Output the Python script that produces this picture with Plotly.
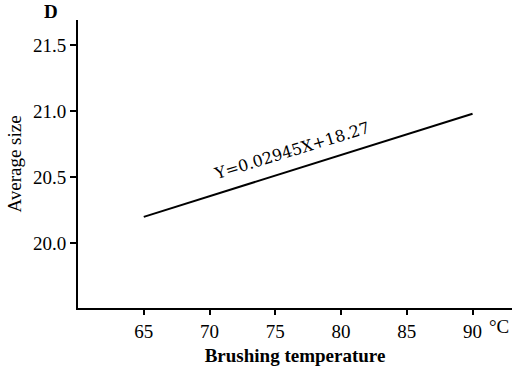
import plotly.graph_objects as go

# Data
temperature = [65, 90]
avg_size = [20.2, 20.98]
x_ticks = [65, 70, 75, 80, 85, 90]
y_ticks = [20.0, 20.5, 21.0, 21.5]
equation_label = "Y=0.02945X+18.27"

SERIF = "Liberation Serif"
WIDE = "DejaVu Serif"

fig = go.Figure()
fig.add_trace(go.Scatter(
    x=temperature, y=avg_size, mode="lines",
    line=dict(color="black", width=2), showlegend=False,
))

fig.update_layout(
    width=516, height=369,
    margin=dict(l=78, r=4, t=20, b=61),
    paper_bgcolor="white", plot_bgcolor="white",
    font=dict(family=SERIF, color="black", size=17),
    xaxis=dict(
        range=[60, 93], tickvals=x_ticks, ticktext=[str(v) for v in x_ticks],
        tickfont=dict(family=SERIF, size=19, color="black"),
        showline=True, linecolor="black", linewidth=2, mirror=False,
        ticks="outside", ticklen=5, tickwidth=1.5, tickcolor="black",
        showgrid=False, zeroline=False,
        title=dict(text="<b>Brushing temperature</b>",
                   font=dict(size=19, family=SERIF, color="black"), standoff=8),
    ),
    yaxis=dict(
        range=[19.51, 21.69], tickvals=y_ticks, tickformat=".1f",
        tickfont=dict(family=SERIF, size=19, color="black"),
        showline=True, linecolor="black", linewidth=2, mirror=False,
        ticks="outside", ticklen=6, tickwidth=1.5, tickcolor="black",
        showgrid=False, zeroline=False,
        title=dict(text="Average size",
                   font=dict(size=19, family=SERIF, color="black"), standoff=6),
    ),
    annotations=[
        dict(x=76.3, y=20.70, xref="x", yref="y", text=equation_label,
             showarrow=False, textangle=-17, font=dict(size=16, family=WIDE, color="black")),
        dict(x=-0.062, y=1.03, xref="paper", yref="paper", text="<b>D</b>",
             xanchor="center", yanchor="middle",
             showarrow=False, font=dict(size=19, family=SERIF, color="black")),
        dict(x=92.0, y=-0.065, xref="x", yref="paper", text="°C",
             xanchor="center", yanchor="middle",
             showarrow=False, font=dict(size=19, family=SERIF, color="black")),
    ],
)

fig.write_html("out.html")
